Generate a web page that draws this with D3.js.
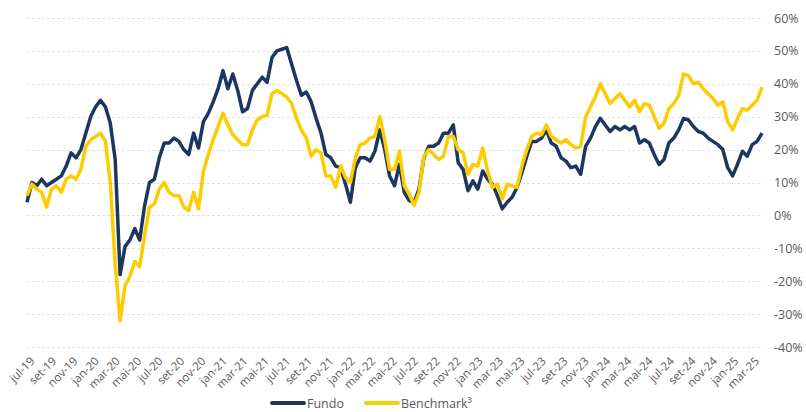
<!DOCTYPE html>
<html>
<head>
<meta charset="utf-8">
<style>
    body { margin: 0; background: #fff; }
    .axis text { font-family: "Open Sans", sans-serif; fill: #595959; }
    .axis path, .axis line { display: none; }
</style>
</head>
<body>
    <div class="graph"></div>

    <script src="https://cdn.jsdelivr.net/npm/d3@7"></script>
    <script>
        // one point every 14 days, starting 2019-07-01 (values in %)
        var start = new Date(2019, 6, 1),
            end = new Date(2025, 2, 31),
            stepDays = 14

        var fundo = [
            4, 10, 9, 11, 9, 10, 11, 12, 15, 19, 17.5, 20, 25, 30, 33, 35, 33, 28, 17, -18,
            -9.5, -7.5, -4, -7.5, 3, 10, 11, 17.5, 22, 22, 23.5, 22.5, 20, 18.5, 25, 20.5, 28.5, 31, 34.5, 38.5,
            44, 38.5, 43, 38, 31.5, 32.5, 38, 40, 42, 40.5, 48, 50, 50.5, 51, 46, 41, 36.5, 37.5, 34.5, 29.5,
            25, 18.5, 17.5, 15, 14.5, 9.5, 4, 14.5, 17.5, 17.5, 16.5, 19.5, 26, 20, 12, 9, 15.5, 7, 4.5, 4,
            8, 17.5, 21, 21, 22, 25, 25, 27.5, 16, 14, 7.5, 10.5, 8, 13.5, 11, 9.5, 6, 2, 4, 5.5,
            8.5, 13, 18, 22.5, 22.5, 23.5, 26, 22, 21, 17.5, 16.5, 14.5, 15, 12.5, 21, 23.5, 27, 29.5, 27.5, 25.5,
            27, 26, 27, 26, 27, 22, 23, 22, 18.5, 15.5, 17, 22, 23.5, 26, 29.5, 29, 27, 25.5, 25, 23.5,
            22.5, 21.5, 20, 14.5, 12, 15.5, 19.5, 18, 21.5, 22.5, 25
        ]

        var benchmark = [
            6, 9.5, 8, 7, 2.5, 8, 9, 7, 11, 12, 11, 14, 21, 23, 24, 25, 22.5, 10, -15, -32,
            -21.5, -18.5, -14, -15.5, -6, 2.5, 3.5, 8, 10, 7, 6, 6, 2.5, 1.5, 7, 2, 13.5, 18.5, 23, 27,
            31, 27.5, 24.5, 23, 21.5, 21.5, 26, 29, 30, 30.5, 37, 38, 37, 36, 34, 29.5, 26, 23.5, 18, 20,
            19, 12, 12, 8.5, 15, 11.5, 10, 17.5, 21.5, 22, 23.5, 24, 30, 23, 14, 14, 19.5, 9, 6.5, 3,
            7, 18, 20, 18.5, 17, 18, 24, 24, 20, 19, 12.5, 15.5, 15, 20.5, 13.5, 8.5, 9.5, 5, 9.5, 9,
            8.5, 15, 20, 24, 25, 24.5, 27.5, 24, 23, 22, 23, 21.5, 20.5, 21, 30, 33, 36, 40, 37, 34,
            35.5, 37, 35, 33, 35, 31.5, 34, 33.5, 30, 26.5, 28, 32.5, 34, 36.5, 43, 42.5, 40, 40.5, 38.5, 37,
            35.5, 33.5, 34.5, 28.5, 26, 29.5, 32.5, 32, 33.5, 35, 39
        ]

        var tickLabels = [
            'jul-19', 'set-19', 'nov-19', 'jan-20', 'mar-20', 'mai-20', 'jul-20', 'set-20', 'nov-20',
            'jan-21', 'mar-21', 'mai-21', 'jul-21', 'set-21', 'nov-21', 'jan-22', 'mar-22', 'mai-22',
            'jul-22', 'set-22', 'nov-22', 'jan-23', 'mar-23', 'mai-23', 'jul-23', 'set-23', 'nov-23',
            'jan-24', 'mar-24', 'mai-24', 'jul-24', 'set-24', 'nov-24', 'jan-25', 'mar-25'
        ]

        var yTicks = [-40, -30, -20, -10, 0, 10, 20, 30, 40, 50, 60]

        var seriesNames = ['Fundo', 'Benchmark³'],
            colors = ['#1d3660', '#fccc00']

        var width = 806,
            height = 412

        var dates = fundo.map(function (d, i) {
            return d3.timeDay.offset(start, i * stepDays)
        })

        var tickDates = tickLabels.map(function (d, i) {
            return d3.timeMonth.offset(start, i * 2)
        })

        var x = d3.scaleTime()
            .domain([start, end])
            .range([27, 762])

        var y = d3.scaleLinear()
            .domain([-40, 60])
            .range([347, 18])

        var svg = d3.select('.graph').append('svg')
            .attr('width', width)
            .attr('height', height)

        // dashed grid
        svg.append('g')
            .selectAll('line')
            .data(yTicks)
            .enter().append('line')
            .attr('x1', 27)
            .attr('x2', 763)
            .attr('y1', function (d) { return Math.round(y(d)) + 0.5 })
            .attr('y2', function (d) { return Math.round(y(d)) + 0.5 })
            .style('stroke', '#e3e3e3')
            .style('stroke-dasharray', '3,2')

        // y axis on the right
        svg.append('g')
            .attr('class', 'y axis')
            .attr('transform', 'translate(766,0)')
            .call(d3.axisRight(y).tickValues(yTicks).tickSize(0).tickPadding(8)
                .tickFormat(function (d) { return d + '%' }))
            .selectAll('text')
            .style('font-size', '12.5px')

        // x axis, rotated labels
        var xAxis = svg.append('g')
            .attr('class', 'x axis')
            .attr('transform', 'translate(0,357)')
            .call(d3.axisBottom(x).tickValues(tickDates).tickSize(0)
                .tickFormat(function (d, i) { return tickLabels[i] }))

        xAxis.selectAll('text')
            .style('font-size', '11.5px')
            .style('text-anchor', 'end')
            .attr('dy', '0.35em')
            .attr('transform', 'translate(5,2) rotate(-45)')
            .attr('y', 0)
            .attr('x', 0)

        var line = d3.line()
            .x(function (d, i) { return x(dates[i]) })
            .y(function (d) { return y(d) })
            .curve(d3.curveLinear)

        svg.append('g')
            .selectAll('path')
            .data([fundo, benchmark])
            .enter().append('path')
            .attr('d', line)
            .style('fill', 'none')
            .style('stroke', function (d, i) { return colors[i] })
            .style('stroke-width', 3.5)
            .style('stroke-linejoin', 'round')

        // legend
        var legendX = [272, 366]

        var legend = svg.append('g')
            .selectAll('g')
            .data(seriesNames)
            .enter().append('g')
            .attr('transform', function (d, i) { return 'translate(' + legendX[i] + ',403)' })

        legend.append('line')
            .attr('x1', 0)
            .attr('x2', 32)
            .style('stroke', function (d, i) { return colors[i] })
            .style('stroke-width', 4)
            .style('stroke-linecap', 'round')

        legend.append('text')
            .attr('x', 35)
            .attr('y', 4.5)
            .text(function (d) { return d })
            .style('font-family', '"Open Sans", sans-serif')
            .style('font-size', '12.5px')
            .style('fill', '#595959')
    </script>
</body>
</html>
